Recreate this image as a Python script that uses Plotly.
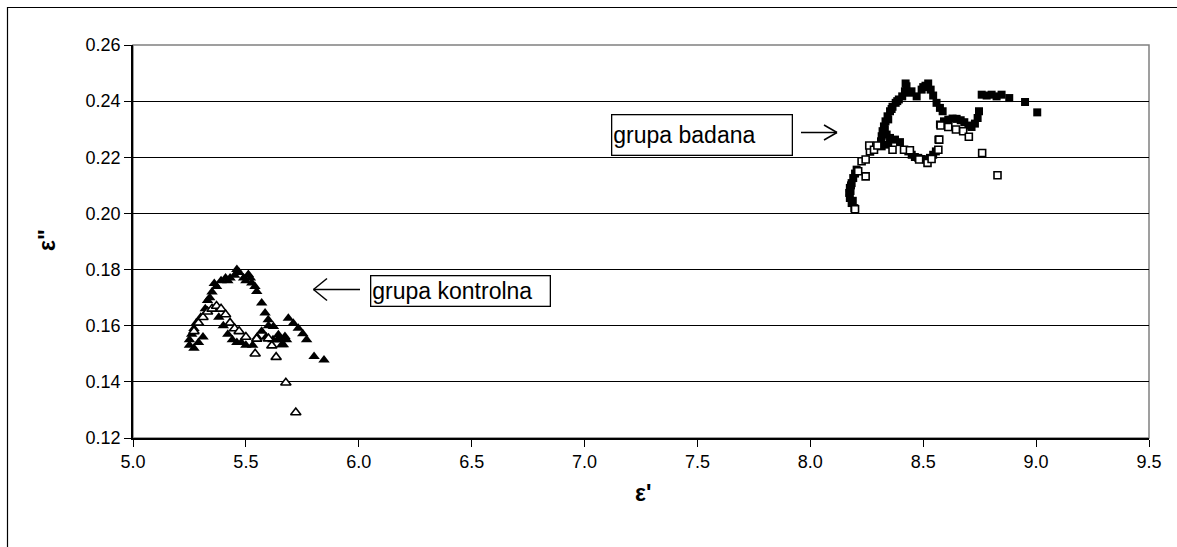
import plotly.graph_objects as go

# ---------------- data ----------------
# grupa badana (filled squares)
bad_f_x = [8.195, 8.183, 8.175, 8.172, 8.175, 8.183, 8.190, 8.198, 8.205, 8.180, 8.178, 8.188,
           8.316, 8.313, 8.316, 8.320, 8.326, 8.333, 8.342, 8.353, 8.364, 8.378, 8.392, 8.407,
           8.419, 8.422, 8.426, 8.448, 8.471, 8.493, 8.522, 8.533, 8.544, 8.559, 8.574, 8.586,
           8.330, 8.345, 8.360, 8.385, 8.440, 8.500, 8.510,
           8.338, 8.353, 8.375, 8.397, 8.345,
           8.434, 8.449, 8.463, 8.478, 8.493, 8.512, 8.530, 8.544, 8.556, 8.567,
           8.574, 8.592, 8.611, 8.630, 8.648, 8.666, 8.682, 8.700, 8.714, 8.729, 8.741, 8.747,
           8.759, 8.781, 8.803, 8.825, 8.847, 8.881, 8.951, 9.005]
bad_f_y = [0.2019, 0.2037, 0.2055, 0.2073, 0.2091, 0.2108, 0.2126, 0.2142, 0.2156, 0.2100, 0.2080, 0.2045,
           0.2239, 0.2257, 0.2275, 0.2293, 0.2310, 0.2328, 0.2346, 0.2364, 0.2380, 0.2394, 0.2406, 0.2417,
           0.2435, 0.2463, 0.2453, 0.2435, 0.2417, 0.2441, 0.2463, 0.2441, 0.2420, 0.2394, 0.2376, 0.2364,
           0.2300, 0.2335, 0.2372, 0.2400, 0.2430, 0.2450, 0.2455,
           0.2281, 0.2269, 0.2263, 0.2254, 0.2245,
           0.2221, 0.2209, 0.2201, 0.2198, 0.2194, 0.2192, 0.2198, 0.2209, 0.2221, 0.2263,
           0.2317, 0.2328, 0.2334, 0.2338, 0.2337, 0.2332, 0.2325, 0.2313, 0.2308, 0.2320, 0.2340, 0.2364,
           0.2423, 0.2420, 0.2423, 0.2417, 0.2423, 0.2411, 0.2397, 0.2360]

# grupa badana (open squares)
bad_o_x = [8.198, 8.212, 8.245, 8.227, 8.245, 8.264, 8.261,
           8.282, 8.297, 8.364, 8.415, 8.441, 8.482, 8.519, 8.537, 8.567, 8.571, 8.577,
           8.611, 8.645, 8.677, 8.702, 8.761, 8.829]
bad_o_y = [0.2015, 0.2150, 0.2132, 0.2186, 0.2192, 0.2221, 0.2242,
           0.2227, 0.2242, 0.2227, 0.2227, 0.2225, 0.2192, 0.2180, 0.2194, 0.2227, 0.2263, 0.2313,
           0.2308, 0.2299, 0.2293, 0.2273, 0.2215, 0.2136]

# grupa kontrolna (filled triangles)
kon_f_x = [5.25, 5.25, 5.26, 5.27, 5.28, 5.30, 5.32, 5.33, 5.35, 5.37, 5.39, 5.41, 5.43, 5.45, 5.46, 5.47, 5.49,
           5.511, 5.526, 5.548, 5.570, 5.585, 5.599, 5.622, 5.644, 5.666, 5.688, 5.710, 5.732, 5.752,
           5.769, 5.802, 5.846, 5.651, 5.673, 5.659,
           5.38, 5.40, 5.42, 5.44, 5.46, 5.48, 5.50, 5.53, 5.55, 5.57, 5.59, 5.62,
           5.27, 5.29, 5.31, 5.34, 5.36, 5.42, 5.50, 5.52, 5.54, 5.60, 5.64, 5.68]
kon_f_y = [0.153, 0.155, 0.157, 0.159, 0.161, 0.163, 0.166, 0.169, 0.172, 0.174, 0.176, 0.177, 0.177, 0.178, 0.180, 0.179, 0.177,
           0.1782, 0.1752, 0.1722, 0.1681, 0.1645, 0.1621, 0.1597, 0.1568, 0.1532, 0.1627, 0.1609, 0.1591, 0.1571,
           0.1550, 0.1490, 0.1478, 0.1550, 0.1562, 0.1532,
           0.163, 0.160, 0.157, 0.155, 0.154, 0.154, 0.153, 0.153, 0.156, 0.158, 0.156, 0.155,
           0.152, 0.154, 0.156, 0.170, 0.175, 0.176, 0.176, 0.177, 0.174, 0.160, 0.155, 0.155]

# grupa kontrolna (open triangles)
kon_o_x = [5.27, 5.29, 5.31, 5.33, 5.35, 5.37, 5.39, 5.41, 5.43, 5.45, 5.47, 5.50, 5.548, 5.541,
           5.60, 5.615, 5.634, 5.677, 5.721]
kon_o_y = [0.158, 0.161, 0.163, 0.165, 0.166, 0.167, 0.166, 0.164, 0.161, 0.159, 0.158, 0.156, 0.1553, 0.150,
           0.1554, 0.1529, 0.1488, 0.1397, 0.1291]

x_ticks = [5.0, 5.5, 6.0, 6.5, 7.0, 7.5, 8.0, 8.5, 9.0, 9.5]
y_ticks = [0.12, 0.14, 0.16, 0.18, 0.20, 0.22, 0.24, 0.26]

# ---------------- layout geometry ----------------
W, H = 1177, 547
L, R, T, B = 133, 1149, 45, 438   # plot area in pixels


def px(xp):
    return (xp - L) / (R - L)


def py(yp):
    return (B - yp) / (B - T)


FONT = "Liberation Sans, Arial, sans-serif"

fig = go.Figure()
fig.add_trace(go.Scatter(x=bad_f_x, y=bad_f_y, mode="markers",
                         marker=dict(symbol="square", size=8, color="black", line=dict(width=0))))
fig.add_trace(go.Scatter(x=bad_o_x, y=bad_o_y, mode="markers",
                         marker=dict(symbol="square", size=7, color="white", line=dict(width=1.6, color="black"))))
fig.add_trace(go.Scatter(x=kon_f_x, y=kon_f_y, mode="markers",
                         marker=dict(symbol="triangle-up", size=10, color="black", line=dict(width=0))))
fig.add_trace(go.Scatter(x=kon_o_x, y=kon_o_y, mode="markers",
                         marker=dict(symbol="triangle-up", size=9, color="white", line=dict(width=1.6, color="black"))))

shapes = []
# outer chart border (extends past the page on right/bottom)
shapes.append(dict(type="rect", xref="paper", yref="paper", x0=px(7.5), x1=px(1200), y0=py(570), y1=py(7.5),
                   line=dict(color="black", width=1.2), layer="below"))
# plot-area border (gray)
shapes.append(dict(type="rect", xref="paper", yref="paper", x0=0, x1=1, y0=0, y1=1,
                   line=dict(color="#808080", width=1.5), layer="below"))


def arrow(x_tail, x_tip, y, head_len, head_half):
    d = 1 if x_tip > x_tail else -1
    segs = [(x_tail, y, x_tip, y),
            (x_tip, y, x_tip - d * head_len, y - head_half),
            (x_tip, y, x_tip - d * head_len, y + head_half)]
    for a, b, c, e in segs:
        shapes.append(dict(type="line", xref="paper", yref="paper",
                           x0=px(a), y0=py(b), x1=px(c), y1=py(e),
                           line=dict(color="black", width=1.5)))


arrow(801, 837, 132.5, 13, 7.5)
arrow(360, 313.5, 289.5, 13.5, 11)

annotations = [
    dict(xref="paper", yref="paper", x=px(610.5), y=py(114), xanchor="left", yanchor="top",
         text="grupa badana", showarrow=False, align="left", valign="middle",
         width=177, height=37, borderpad=1, bordercolor="black", borderwidth=1.3, bgcolor="white",
         font=dict(family=FONT, size=23, color="black")),
    dict(xref="paper", yref="paper", x=px(370), y=py(275), xanchor="left", yanchor="top",
         text="grupa kontrolna", showarrow=False, align="left", valign="middle",
         width=176, height=27, borderpad=1, bordercolor="black", borderwidth=1.3, bgcolor="white",
         font=dict(family=FONT, size=23, color="black")),
    dict(xref="paper", yref="paper", x=px(643), y=py(508), text="<b>ε'</b>", showarrow=False,
         font=dict(family=FONT, size=23, color="black")),
    dict(xref="paper", yref="paper", x=px(32), y=py(240), text="<b>ε\"</b>", showarrow=False, textangle=-90,
         font=dict(family=FONT, size=23, color="black")),
]

fig.update_layout(
    width=W, height=H,
    margin=dict(l=L, r=W - R, t=T, b=H - B, pad=0),
    paper_bgcolor="white", plot_bgcolor="white",
    showlegend=False,
    shapes=shapes, annotations=annotations,
    font=dict(family=FONT, size=18, color="black"),
    xaxis=dict(range=[5.0, 9.5], tickvals=x_ticks, tickformat=".1f", showgrid=False, zeroline=False,
               showline=True, linecolor="black", linewidth=1.5, ticks="outside", ticklen=7,
               tickcolor="black", tickwidth=1.2, tickfont=dict(size=18, family=FONT)),
    yaxis=dict(range=[0.12, 0.26], tickvals=y_ticks, tickformat=".2f", showgrid=True, gridcolor="black",
               gridwidth=1, zeroline=False, showline=True, linecolor="black", linewidth=1.5,
               ticks="outside", ticklen=7, tickcolor="black", tickwidth=1.2, tickfont=dict(size=18, family=FONT)),
)

fig.write_html("out.html")
